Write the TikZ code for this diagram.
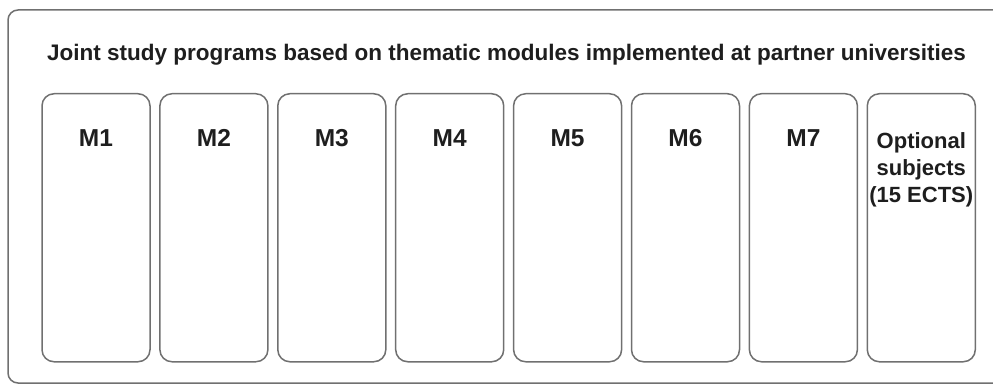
\documentclass[tikz,border=0pt]{standalone}
\usepackage{fontspec}
\setmainfont{Liberation Sans}
\usepackage{tikz}
\usetikzlibrary{positioning}

\definecolor{framegray}{HTML}{707070}
\definecolor{textdark}{HTML}{1E1E1E}

\begin{document}
\begin{tikzpicture}[x=1pt, y=-1pt,
		module/.style={draw=framegray, line width=1.5pt, rounded corners=12pt, minimum width=108pt, minimum height=268pt, inner sep=0pt, anchor=north},
		modlabel/.style={font=\fontsize{24.5}{29}\selectfont\bfseries, text=textdark, inner sep=0pt, anchor=north}]
		\useasboundingbox (0,0) rectangle (993,385);
		\draw[framegray, line width=1.5pt, rounded corners=10pt] (8,10) rectangle (1010,383);
		\node[font=\fontsize{22.5}{27}\selectfont\bfseries, text=textdark, anchor=base] (title) at (506.5,61) {Joint study programs based on thematic modules implemented at partner universities};
		\node[module] at (96,93) (m1) {};
		\node[module] at (213.9,93) (m2) {};
		\node[module] at (331.8,93) (m3) {};
		\node[module] at (449.7,93) (m4) {};
		\node[module] at (567.6,93) (m5) {};
		\node[module] at (685.5,93) (m6) {};
		\node[module] at (803.4,93) (m7) {};
		\node[module] at (921.3,93) (m8) {};
		\node[modlabel, below=36pt of m1.north] (l1) {M1};
		\node[modlabel, below=36pt of m2.north] (l2) {M2};
		\node[modlabel, below=36pt of m3.north] (l3) {M3};
		\node[modlabel, below=36pt of m4.north] (l4) {M4};
		\node[modlabel, below=36pt of m5.north] (l5) {M5};
		\node[modlabel, below=36pt of m6.north] (l6) {M6};
		\node[modlabel, below=36pt of m7.north] (l7) {M7};
		\node[modlabel, align=center, font=\fontsize{22}{27}\selectfont\bfseries, below=39pt of m8.north] (l8) {Optional\\subjects\\(15 ECTS)};
	\end{tikzpicture}
\end{document}
